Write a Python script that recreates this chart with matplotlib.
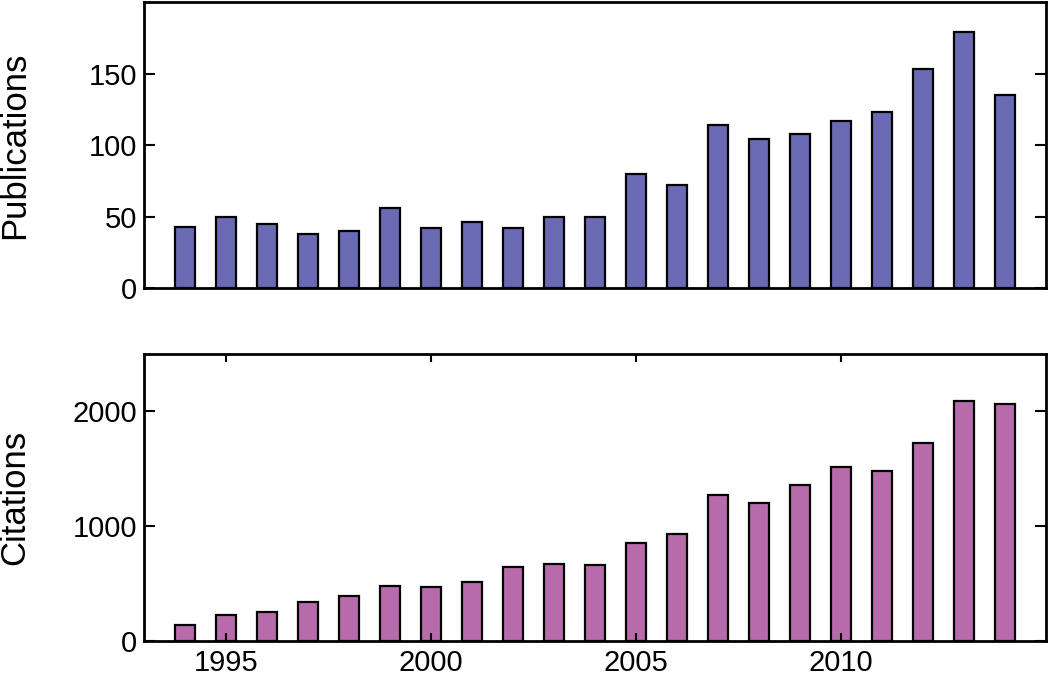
"""Publications and citations per year, two stacked bar panels."""

import matplotlib

matplotlib.use("Agg")
from matplotlib import pyplot as plt  # noqa: E402

plt.rcParams["font.family"] = ["Liberation Sans", "DejaVu Sans"]

YEARS = list(range(1994, 2015))
PUBLICATIONS = [43, 50, 45, 38, 40, 56, 42, 46, 42, 50, 50,
                80, 72, 114, 104, 108, 117, 123, 153, 179, 135]
CITATIONS = [140, 227, 250, 335, 386, 480, 468, 508, 642, 669, 657,
             852, 930, 1267, 1197, 1357, 1514, 1480, 1726, 2086, 2063]

PUB_TICKS = [0, 50, 100, 150]
CIT_TICKS = [0, 1000, 2000]
YEAR_TICKS = [1995, 2000, 2005, 2010]

PUB_COLOR = "#6a6ab4"
CIT_COLOR = "#b76bab"

fig = plt.figure(figsize=(10.5, 6.83), dpi=100)
ax_top = fig.add_axes([0.137, 0.578, 0.859, 0.419])
ax_bot = fig.add_axes([0.137, 0.062, 0.859, 0.420])

for ax, vals, color, ticks, ylim, label in [
    (ax_top, PUBLICATIONS, PUB_COLOR, PUB_TICKS, 200, "Publications"),
    (ax_bot, CITATIONS, CIT_COLOR, CIT_TICKS, 2500, "Citations"),
]:
    ax.bar(YEARS, vals, width=0.5, color=color, edgecolor="black", linewidth=1.6)
    ax.set_xlim(1993, 2015)
    ax.set_ylim(0, ylim)
    ax.set_yticks(ticks)
    ax.set_ylabel(label, fontsize=25)
    ax.tick_params(axis="both", direction="in", length=8, width=1.5,
                   labelsize=21, pad=5, left=True, right=True)
    for sp in ax.spines.values():
        sp.set_linewidth(2)

ax_top.set_xticks([])
ax_bot.set_xticks(YEAR_TICKS)
ax_bot.tick_params(axis="x", top=True, bottom=True, length=6, pad=6)

ax_top.yaxis.set_label_coords(-0.125, 0.5)
ax_bot.yaxis.set_label_coords(-0.125, 0.5)

fig.savefig("out.png", dpi=100)
